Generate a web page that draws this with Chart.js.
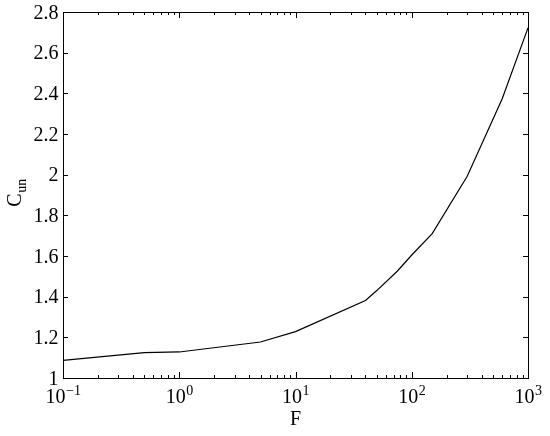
<!DOCTYPE html>
<html>
<head>
<meta charset="utf-8">
<script src="https://cdn.jsdelivr.net/npm/chart.js@4"></script>
<style>
  html, body { margin: 0; padding: 0; background: #fff; }
  #wrap { width: 550px; height: 436px; position: relative; }
</style>
</head>
<body>
<div id="wrap"><canvas id="chart"></canvas></div>
<script>
// values
const fValues = [0.1, 0.5, 1, 5, 10, 40, 50, 75, 100, 150, 300, 600, 1000];
const cunValues = [1.087, 1.125, 1.128, 1.177, 1.228, 1.381, 1.43, 1.525, 1.605, 1.71, 1.992, 2.373, 2.722];
const xExponents = [-1, 0, 1, 2, 3];
const yTicks = [1, 1.2, 1.4, 1.6, 1.8, 2, 2.2, 2.4, 2.6, 2.8];
const yTickLabels = ['1', '1.2', '1.4', '1.6', '1.8', '2', '2.2', '2.4', '2.6', '2.8'];

const FONT = '"Liberation Serif", "DejaVu Serif", serif';
const BIG = '20px ' + FONT;
const SMALL = '14px ' + FONT;

// frame, inward ticks, tick labels, axis titles
const axesPlugin = {
  id: 'axesPlugin',
  afterDraw(chart) {
    const ctx = chart.ctx;
    const a = chart.chartArea;
    const xs = chart.scales.x, ys = chart.scales.y;
    ctx.save();
    ctx.strokeStyle = '#000';
    ctx.lineWidth = 1;
    ctx.strokeRect(Math.round(a.left) + 0.5, Math.round(a.top) + 0.5,
      Math.round(a.right - a.left), Math.round(a.bottom - a.top));

    ctx.beginPath();
    // x ticks (major + minor) on bottom and top
    xExponents.forEach((e, i) => {
      for (let m = 1; m <= 9; m++) {
        if (m > 1 && i === xExponents.length - 1) break;
        const v = m * Math.pow(10, e);
        const px = Math.round(xs.getPixelForValue(v)) + 0.5;
        const len = m === 1 ? 6 : 3;
        ctx.moveTo(px, a.bottom); ctx.lineTo(px, a.bottom - len);
        ctx.moveTo(px, a.top); ctx.lineTo(px, a.top + len);
      }
    });
    // y ticks on left and right
    yTicks.forEach(v => {
      const py = Math.round(ys.getPixelForValue(v)) + 0.5;
      ctx.moveTo(a.left, py); ctx.lineTo(a.left + 5, py);
      ctx.moveTo(a.right, py); ctx.lineTo(a.right - 5, py);
    });
    ctx.stroke();

    ctx.fillStyle = '#000';
    ctx.textBaseline = 'alphabetic';

    // y tick labels
    ctx.font = BIG;
    ctx.textAlign = 'right';
    yTicks.forEach((v, i) => {
      ctx.fillText(yTickLabels[i], a.left - 4.5, ys.getPixelForValue(v) + 6.5);
    });

    // x tick labels 10^e
    ctx.textAlign = 'left';
    xExponents.forEach(e => {
      const px = xs.getPixelForValue(Math.pow(10, e));
      ctx.font = BIG;
      const wb = ctx.measureText('10').width;
      ctx.font = SMALL;
      const sup = e < 0 ? '\u2212' + Math.abs(e) : String(e);
      const ws = ctx.measureText(sup).width;
      const x0 = px - (wb + ws) / 2;
      ctx.font = BIG;
      ctx.fillText('10', x0, 403);
      ctx.font = SMALL;
      ctx.fillText(sup, x0 + wb + 0.5, 394.5);
    });

    // x title
    ctx.font = BIG;
    ctx.textAlign = 'center';
    ctx.fillText('F', (a.left + a.right) / 2, 425);

    // y title C_un rotated
    ctx.translate(21, 193);
    ctx.rotate(-Math.PI / 2);
    ctx.font = BIG;
    const wc = ctx.measureText('C').width;
    ctx.font = SMALL;
    const wu = ctx.measureText('un').width;
    const sx = -(wc + wu) / 2;
    ctx.textAlign = 'left';
    ctx.font = BIG;
    ctx.fillText('C', sx, 0);
    ctx.font = SMALL;
    ctx.fillText('un', sx + wc + 0.5, 5);
    ctx.restore();
  }
};

new Chart(document.getElementById('chart'), {
  type: 'line',
  data: {
    datasets: [{
      data: fValues.map((f, i) => ({ x: f, y: cunValues[i] })),
      borderColor: '#000',
      borderWidth: 1.2,
      pointRadius: 0,
      tension: 0,
      fill: false
    }]
  },
  options: {
    responsive: true,
    maintainAspectRatio: false,
    animation: false,
    layout: { padding: { top: 12, right: 22, left: 0, bottom: 0 } },
    plugins: { legend: { display: false }, tooltip: { enabled: false } },
    scales: {
      x: {
        type: 'logarithmic',
        min: 0.1,
        max: 1000,
        grid: { display: false },
        border: { display: false },
        ticks: { display: false },
        afterFit(scale) { scale.height = 58; }
      },
      y: {
        type: 'linear',
        min: 1,
        max: 2.8,
        grid: { display: false, drawTicks: false },
        border: { display: false },
        ticks: { display: false },
        afterFit(scale) { scale.width = 63; }
      }
    }
  },
  plugins: [axesPlugin]
});
</script>
</body>
</html>
